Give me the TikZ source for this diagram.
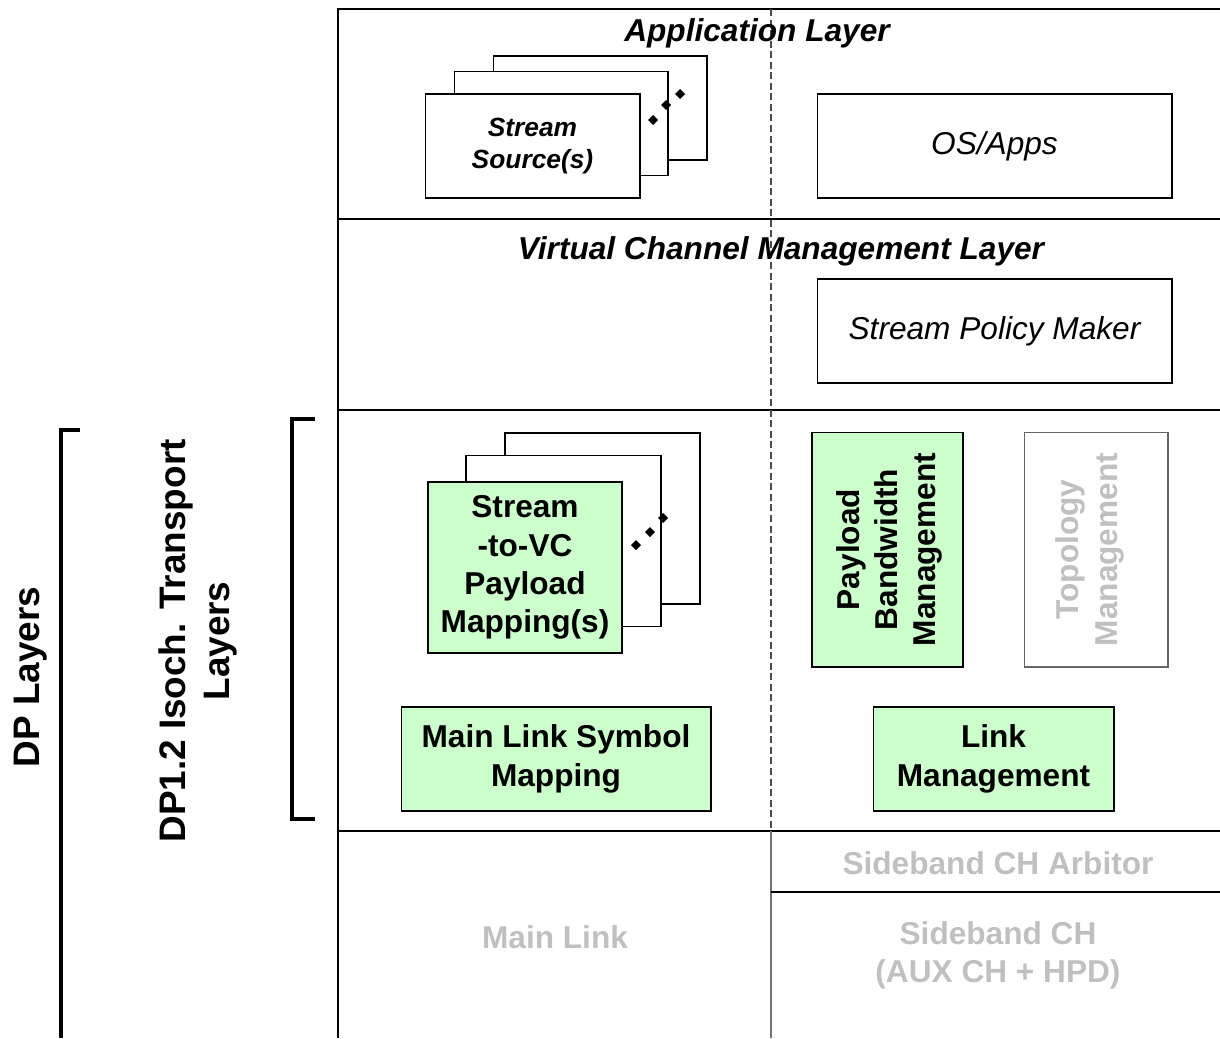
\documentclass[tikz,border=0pt]{standalone}
\usepackage{fontspec}
\setmainfont{Liberation Sans}
\definecolor{vcgreen}{HTML}{CCFFCC}
\definecolor{dimtext}{HTML}{C0C0C0}
\begin{document}
\begin{tikzpicture}[x=0.02cm,y=-0.02cm,line width=.6pt,
  box/.style={draw,fill=white,inner sep=0pt,align=center,minimum height=2.08cm,font=\fontsize{18}{21.5}\selectfont},
  grnbox/.style={box,fill=vcgreen,font=\bfseries\fontsize{18}{21.8}\selectfont},
  heading/.style={font=\bfseries\itshape\fontsize{18}{21.5}\selectfont},
  greytext/.style={text=dimtext,align=center,font=\bfseries\fontsize{18}{21.8}\selectfont},
  bracket/.style={line width=1.8pt}]
\useasboundingbox (0,0) rectangle (1220,1038);
% layer frame
\draw (338,1038)--(338,9)--(1220,9); \draw (338,219)--(1220,219); \draw (338,410)--(1220,410); \draw (338,831)--(1220,831);
\draw[dash pattern=on 4pt off 2pt,black!70] (771,9)--(771,831);
\draw[black!55] (771,831)--(771,1038); \draw (771,892)--(1220,892);
% application layer
\node[heading] (app) at (757,33) {Application Layer};
\node[box,minimum width=4.28cm] (src3) at (600,108) {};
\node[box,minimum width=4.28cm] (src2) at (561,123.5) {};
\node[box,minimum width=4.3cm,font=\bfseries\itshape\fontsize{15}{18}\selectfont] (src1) at (532.5,146) {\raisebox{-2pt}{}Stream\\Source(s)};
\foreach \p in {(653,120),(666,105),(680,94)} \fill \p +(0,-5)--+(5,0)--+(0,5)--+(-5,0)--cycle;
\node[box,minimum width=7.1cm,font=\itshape\fontsize{18}{21.5}\selectfont] (os) at (994.5,146) {OS/Apps};
% virtual channel management layer
\node[heading] (vcm) at (781,251) {Virtual Channel Management Layer};
\node[box,minimum width=7.1cm,font=\itshape\fontsize{18}{21.5}\selectfont] (policy) at (994.5,331) {Stream Policy Maker};
% isoch. transport layer
\node[box,minimum width=3.9cm,minimum height=3.42cm] (map3) at (602.5,518.5) {};
\node[box,minimum width=3.9cm,minimum height=3.42cm] (map2) at (563.5,541) {};
\node[grnbox,minimum width=3.88cm,minimum height=3.42cm] (map1) at (525,567.5) {Stream\\-to-VC\\Payload\\Mapping(s)};
\foreach \p in {(636,545),(650,532),(663,518)} \fill \p +(0,-5)--+(5,0)--+(0,5)--+(-5,0)--cycle;
\node[grnbox,minimum width=3.02cm,minimum height=4.7cm] (pbm) at (887.5,549.5) {};
\node[rotate=90,align=center,font=\bfseries\fontsize{18}{21.8}\selectfont] (pbmtext) at (889.5,549.5) {Payload\\Bandwidth\\Management};
\node[box,draw=black!60,minimum width=2.88cm,minimum height=4.7cm] (topo) at (1096,549.5) {};
\node[greytext,rotate=90] (topotext) at (1090,549.5) {Topology\\Management};
\node[grnbox,minimum width=6.2cm] (mlsm) at (556,759) {Main Link Symbol\\Mapping};
\node[grnbox,minimum width=4.82cm] (lm) at (993.5,759) {Link\\Management};
% physical layer
\node[greytext] (ml) at (555,937) {Main Link};
\node[greytext] (arb) at (998,863) {Sideband CH Arbitor};
\node[greytext] (sb) at (998,955) {Sideband CH\\(AUX CH + HPD)};
% brackets
\draw[bracket] (315,419)--(292,419)--(292,819)--(315,819);
\draw[bracket] (80,430)--(61,430)--(61,1038);
\node[rotate=90,align=center,font=\bfseries\fontsize{21}{25}\selectfont] (iso) at (198,641) {DP1.2 Isoch. Transport\\Layers};
\node[rotate=90,font=\bfseries\fontsize{21}{25}\selectfont] (dp) at (31,677) {DP Layers};
\end{tikzpicture}
\end{document}
